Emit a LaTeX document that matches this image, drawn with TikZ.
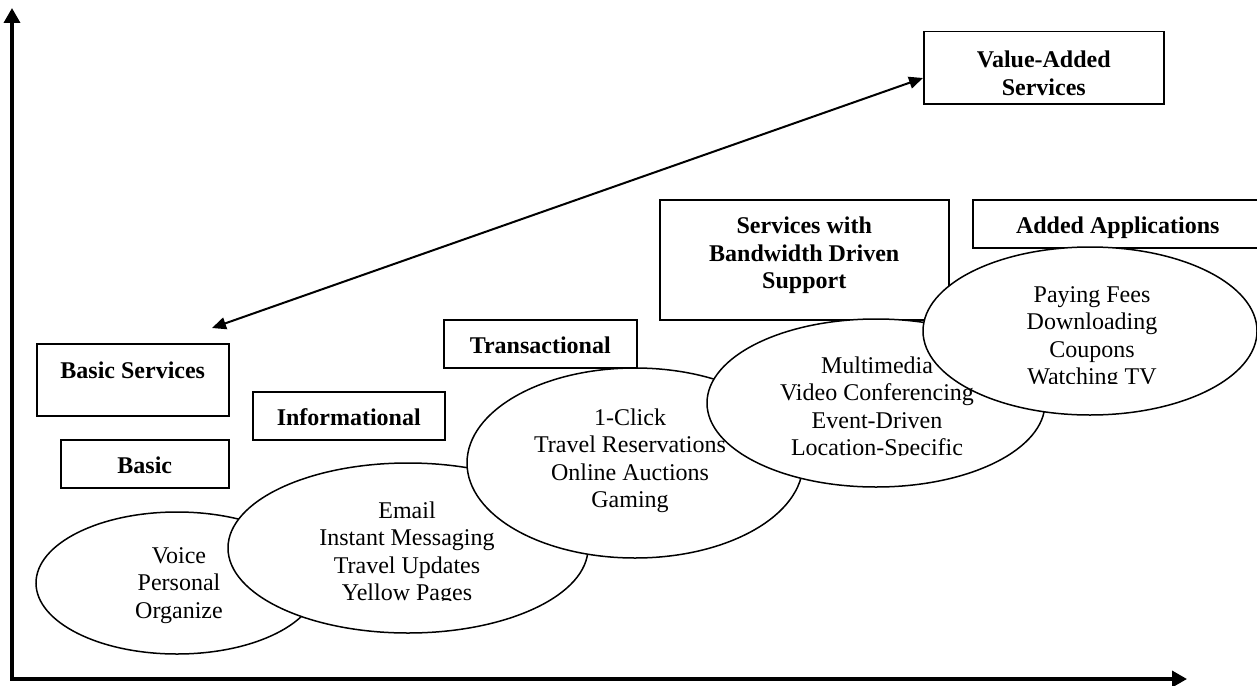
\documentclass[tikz,border=0pt]{standalone}
\usepackage{fontspec}
\setmainfont{Liberation Serif}
\usetikzlibrary{arrows.meta,shapes.geometric}
\begin{document}
\begin{tikzpicture}[x=1pt,y=-1pt,
  txt/.style={font=\fontsize{24}{27.6}\selectfont, inner sep=0pt},
  boxnode/.style={draw, line width=1.5pt, fill=white, anchor=north west, inner ysep=0pt, inner xsep=0pt,
    font=\fontsize{24}{27.6}\selectfont\bfseries},
  ell/.style={draw, ellipse, line width=1.5pt, fill=white, inner sep=0pt},
  axis/.style={line width=3.5pt, {Triangle[length=15pt,width=16pt]}-{Triangle[length=15pt,width=16pt]}},
  dbl/.style={line width=2pt, {Triangle[length=14pt,width=12pt]}-{Triangle[length=14pt,width=12pt]}}]
\useasboundingbox (0,0) rectangle (1257,685);

% axes
\coordinate (ytip) at (12,8);
\coordinate (orig) at (12,679);
\coordinate (xtip) at (1187,679);
\draw[axis] (ytip) -- (orig) -- (xtip);

% boxes
\node[boxnode, minimum width=192pt, text height=35pt, text depth=37pt] (bs) at (36,343) {Basic Services};
\node[boxnode, minimum width=168pt, text height=34pt, text depth=14pt] (basic) at (60,439) {Basic};
\node[boxnode, minimum width=192pt, text height=34pt, text depth=14pt] (info) at (252,391) {Informational};
\node[boxnode, minimum width=193pt, text height=34pt, text depth=14pt] (trans) at (443,319) {Transactional};
\node[boxnode, minimum width=289pt, text height=34pt, text depth=86pt] (bw) at (659,199)
  {\parbox[t]{280pt}{\centering Services with\\Bandwidth Driven\\Support}};
\node[boxnode, minimum width=290pt, text height=34pt, text depth=14pt] (aa) at (972,199) {Added Applications};
\node[boxnode, minimum width=240pt, text height=36pt, text depth=36pt] (va) at (923,31)
  {\parbox[t]{230pt}{\centering Value-Added\\Services}};

% double arrow
\coordinate (dl) at (212,328);
\coordinate (dr) at (923,78);
\draw[dbl] (dl) -- (dr);

% ellipses
\node[ell, minimum width=282pt, minimum height=142pt] (ev) at (177,583) {};
\node[ell, minimum width=360pt, minimum height=170pt] (ee) at (408,548) {};
\node[ell, minimum width=336pt, minimum height=190pt] (et) at (635,463) {};
\node[ell, minimum width=338pt, minimum height=168pt] (em) at (876,403) {};
\node[ell, minimum width=334pt, minimum height=168pt] (ep) at (1090,331) {};

% ellipse texts
\node[txt, anchor=base] (tv) at (179,563) {\parbox[t]{260pt}{\centering Voice\\Personal\\Organize}};
\begin{scope}
\clip (200,470) rectangle (620,600);
\node[txt, anchor=base] (te) at (407,518) {\parbox[t]{260pt}{\centering Email\\Instant Messaging\\Travel Updates\\Yellow Pages}};
\end{scope}
\node[txt, anchor=base] (tt) at (630,425) {\parbox[t]{260pt}{\centering 1-Click\\Travel Reservations\\Online Auctions\\Gaming}};
\begin{scope}
\clip (700,330) rectangle (1060,455);
\node[txt, anchor=base] (tm) at (877,373) {\parbox[t]{260pt}{\centering Multimedia\\Video Conferencing\\Event-Driven\\Location-Specific}};
\end{scope}
\begin{scope}
\clip (940,260) rectangle (1250,383);
\node[txt, anchor=base] (tp) at (1092,302) {\parbox[t]{260pt}{\centering Paying Fees\\Downloading\\Coupons\\Watching TV}};
\end{scope}
\end{tikzpicture}
\end{document}
